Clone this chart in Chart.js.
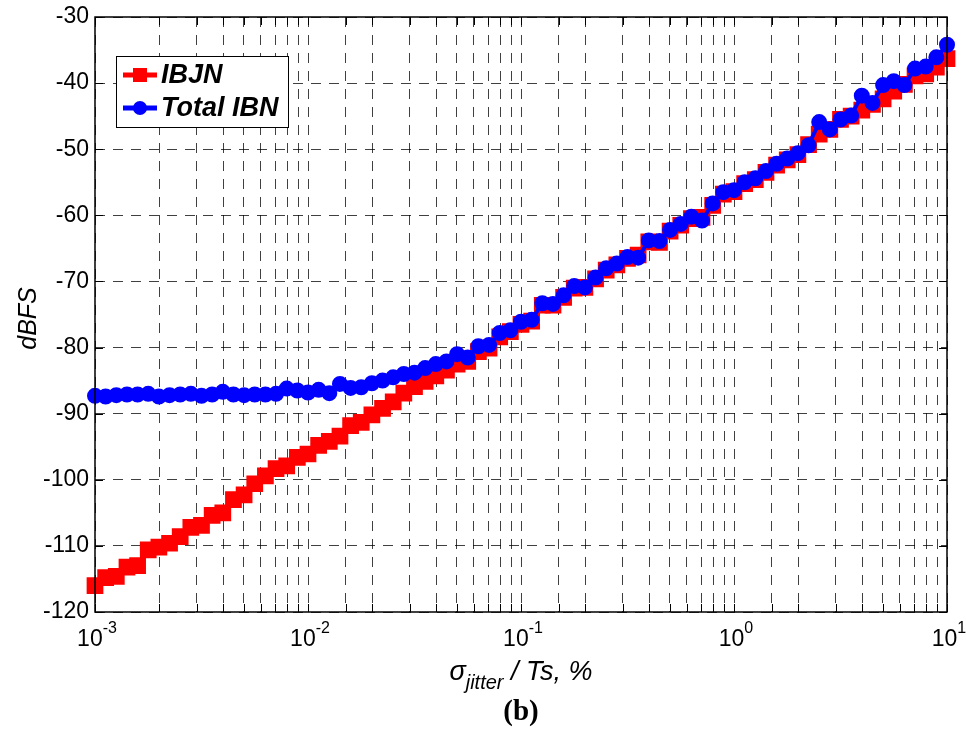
<!DOCTYPE html>
<html>
<head>
<meta charset="utf-8">
<script src="https://cdn.jsdelivr.net/npm/chart.js@4.4.1/dist/chart.umd.min.js"></script>
<style>
  html, body { margin: 0; padding: 0; background: #fff; }
  #wrap { width: 966px; height: 737px; }
</style>
</head>
<body>
<div id="wrap"><canvas id="jitterChart" width="966" height="737"></canvas></div>
<script>
// sigma_jitter / Ts in %, 20 points per decade
var jitterPct = [
  0.001, 0.001122, 0.001259, 0.001413, 0.001585, 0.001778, 0.001995, 0.002239, 0.002512, 0.002818,
  0.003162, 0.003548, 0.003981, 0.004467, 0.005012, 0.005623, 0.006310, 0.007079, 0.007943, 0.008913,
  0.01, 0.01122, 0.01259, 0.01413, 0.01585, 0.01778, 0.01995, 0.02239, 0.02512, 0.02818,
  0.03162, 0.03548, 0.03981, 0.04467, 0.05012, 0.05623, 0.06310, 0.07079, 0.07943, 0.08913,
  0.1, 0.1122, 0.1259, 0.1413, 0.1585, 0.1778, 0.1995, 0.2239, 0.2512, 0.2818,
  0.3162, 0.3548, 0.3981, 0.4467, 0.5012, 0.5623, 0.6310, 0.7079, 0.7943, 0.8913,
  1, 1.122, 1.259, 1.413, 1.585, 1.778, 1.995, 2.239, 2.512, 2.818,
  3.162, 3.548, 3.981, 4.467, 5.012, 5.623, 6.310, 7.079, 7.943, 8.913,
  10
];

// IBJN, dBFS
var ibjn = [
  -116.0, -114.8, -114.6, -113.2, -113.0, -110.6, -110.2, -109.6, -108.6, -107.2,
  -106.9, -105.4, -105.0, -103.0, -102.3, -100.6, -99.4, -98.3, -97.9, -96.6,
  -96.1, -94.8, -94.2, -93.4, -91.8, -91.3, -90.2, -89.2, -88.2, -86.9,
  -85.9, -85.1, -84.3, -83.4, -82.5, -82.1, -80.6, -80.1, -78.4, -77.6,
  -76.5, -76.0, -73.6, -73.6, -72.4, -71.0, -70.9, -69.6, -68.3, -67.5,
  -66.5, -66.0, -64.0, -64.1, -62.4, -61.5, -60.5, -60.3, -58.5, -56.8,
  -56.4, -55.2, -54.6, -53.5, -52.4, -51.6, -50.8, -49.3, -47.7, -47.0,
  -45.5, -45.0, -44.1, -43.2, -42.4, -41.2, -40.2, -38.9, -38.6, -37.6,
  -36.3
];

// Total IBN, dBFS
var totalIbn = [
  -87.3, -87.4, -87.2, -87.1, -87.1, -87.0, -87.4, -87.2, -87.1, -87.0,
  -87.3, -87.1, -86.7, -87.1, -87.2, -87.1, -87.1, -87.0, -86.2, -86.5,
  -86.8, -86.4, -86.9, -85.5, -86.1, -86.0, -85.4, -85.0, -84.5, -84.0,
  -83.8, -83.1, -82.5, -82.1, -81.0, -81.5, -79.8, -79.6, -77.8, -77.4,
  -76.1, -75.8, -73.3, -73.4, -72.1, -70.7, -70.9, -69.4, -68.0, -67.3,
  -66.3, -66.4, -63.8, -63.9, -62.2, -61.3, -60.2, -60.8, -58.2, -56.5,
  -56.2, -55.0, -54.4, -53.3, -52.2, -51.4, -50.6, -49.4, -45.9, -47.0,
  -45.5, -44.9, -41.9, -43.0, -40.3, -39.7, -40.3, -37.8, -37.5, -36.1,
  -34.2
];

var xDecades = [0.001, 0.01, 0.1, 1, 10];
var xDecadeExp = ['-3', '-2', '-1', '0', '1'];
var yTicks = [-120, -110, -100, -90, -80, -70, -60, -50, -40, -30];

var FONT = '"Liberation Sans", Arial, sans-serif';

function toPoints(ys) {
  return jitterPct.map(function(x, i) { return { x: x, y: ys[i] }; });
}

// box, inward ticks, tick labels, titles and legend drawn MATLAB style
var axisDecor = {
  id: 'axisDecor',
  afterDraw: function(chart) {
    var ctx = chart.ctx;
    var a = chart.chartArea;
    var xs = chart.scales.x;
    var ys = chart.scales.y;
    ctx.save();

    ctx.strokeStyle = '#000';
    ctx.lineWidth = 1;
    ctx.beginPath();
    xs.ticks.forEach(function(t) {
      var px = Math.round(xs.getPixelForValue(t.value)) + 0.5;
      ctx.moveTo(px, a.bottom); ctx.lineTo(px, a.bottom - 8);
      ctx.moveTo(px, a.top); ctx.lineTo(px, a.top + 8);
    });
    yTicks.forEach(function(v) {
      var py = Math.round(ys.getPixelForValue(v)) + 0.5;
      ctx.moveTo(a.left, py); ctx.lineTo(a.left + 8, py);
      ctx.moveTo(a.right, py); ctx.lineTo(a.right - 8, py);
    });
    ctx.stroke();

    ctx.lineWidth = 1.5;
    ctx.strokeRect(a.left, a.top, a.right - a.left, a.bottom - a.top);

    // y tick labels
    ctx.fillStyle = '#000';
    ctx.font = '23px ' + FONT;
    ctx.textAlign = 'right';
    ctx.textBaseline = 'middle';
    yTicks.forEach(function(v) {
      ctx.fillText(String(v), a.left - 6, ys.getPixelForValue(v));
    });

    // x tick labels 10^n
    ctx.textBaseline = 'alphabetic';
    xDecades.forEach(function(v, i) {
      var px = xs.getPixelForValue(v);
      ctx.font = '23px ' + FONT;
      var wBase = ctx.measureText('10').width;
      ctx.font = '16px ' + FONT;
      var wExp = ctx.measureText(xDecadeExp[i]).width;
      var x0 = px - (wBase + wExp) / 2 + 2;
      ctx.textAlign = 'left';
      ctx.font = '23px ' + FONT;
      ctx.fillText('10', x0, a.bottom + 34);
      ctx.font = '16px ' + FONT;
      ctx.fillText(xDecadeExp[i], x0 + wBase, a.bottom + 21);
    });

    // x title: sigma_jitter / Ts, %
    var xc = (a.left + a.right) / 2;
    ctx.font = 'italic 27px ' + FONT;
    var wSig = ctx.measureText('\u03C3').width;
    var wRest = ctx.measureText(' / Ts, %').width;
    ctx.font = 'italic 20px ' + FONT;
    var wSub = ctx.measureText('jitter').width;
    var xt = xc - (wSig + wSub + wRest) / 2;
    var yb = a.bottom + 68;
    ctx.font = 'italic 27px ' + FONT;
    ctx.fillText('\u03C3', xt, yb);
    ctx.font = 'italic 20px ' + FONT;
    ctx.fillText('jitter', xt + wSig, yb + 9);
    ctx.font = 'italic 27px ' + FONT;
    ctx.fillText(' / Ts, %', xt + wSig + wSub, yb);

    // panel caption
    ctx.textAlign = 'center';
    ctx.font = 'bold 29px "Liberation Serif", serif';
    ctx.fillText('(b)', xc, a.bottom + 108);

    // y title
    ctx.save();
    ctx.translate(36, (a.top + a.bottom) / 2 + 4);
    ctx.rotate(-Math.PI / 2);
    ctx.font = 'italic 25px ' + FONT;
    ctx.textAlign = 'center';
    ctx.fillText('dBFS', 0, 0);
    ctx.restore();

    // legend
    var lx = 116, ly = 56, lw = 172, lh = 71;
    ctx.fillStyle = '#fff';
    ctx.fillRect(lx, ly, lw, lh);
    ctx.strokeStyle = '#000';
    ctx.lineWidth = 1;
    ctx.strokeRect(lx + 0.5, ly + 0.5, lw, lh);
    chart.data.datasets.forEach(function(ds, i) {
      var cy = ly + 19 + i * 33;
      ctx.strokeStyle = ds.borderColor;
      ctx.lineWidth = 5;
      ctx.beginPath();
      ctx.moveTo(lx + 7, cy); ctx.lineTo(lx + 41, cy);
      ctx.stroke();
      ctx.fillStyle = ds.pointBackgroundColor;
      if (ds.pointStyle === 'rect') {
        ctx.fillRect(lx + 24 - 7, cy - 7, 14, 14);
      } else {
        ctx.beginPath(); ctx.arc(lx + 24, cy, 7, 0, Math.PI * 2); ctx.fill();
      }
      ctx.fillStyle = '#000';
      ctx.font = 'italic bold 27px ' + FONT;
      ctx.textAlign = 'left';
      ctx.textBaseline = 'middle';
      ctx.fillText(ds.label, lx + 45, cy + 1);
    });

    ctx.restore();
  }
};

var ctx = document.getElementById('jitterChart').getContext('2d');
var jitterChart = new Chart(ctx, {
  type: 'line',
  data: {
    datasets: [
      {
        label: 'IBJN',
        data: toPoints(ibjn),
        borderColor: '#ff0000',
        backgroundColor: '#ff0000',
        pointBackgroundColor: '#ff0000',
        pointBorderColor: '#ff0000',
        pointStyle: 'rect',
        pointRadius: 9,
        borderWidth: 4,
        tension: 0,
        clip: false,
        order: 2
      },
      {
        label: 'Total IBN',
        data: toPoints(totalIbn),
        borderColor: '#0000ff',
        backgroundColor: '#0000ff',
        pointBackgroundColor: '#0000ff',
        pointBorderColor: '#0000ff',
        pointStyle: 'circle',
        pointRadius: 6,
        borderWidth: 4,
        tension: 0,
        clip: false,
        order: 1
      }
    ]
  },
  options: {
    responsive: false,
    animation: false,
    devicePixelRatio: 1,
    layout: { padding: { left: 95, right: 19, top: 17, bottom: 125 } },
    plugins: {
      legend: { display: false },
      tooltip: { enabled: false }
    },
    scales: {
      x: {
        type: 'logarithmic',
        min: 0.001,
        max: 10,
        ticks: { display: false },
        border: { display: false, dash: [10, 8] },
        grid: { color: 'rgba(0,0,0,0.75)', lineWidth: 1, drawTicks: false }
      },
      y: {
        type: 'linear',
        min: -120,
        max: -30,
        ticks: { display: false, stepSize: 10 },
        border: { display: false, dash: [10, 8] },
        grid: { color: 'rgba(0,0,0,0.75)', lineWidth: 1, drawTicks: false }
      }
    }
  },
  plugins: [axisDecor]
});
</script>
</body>
</html>
